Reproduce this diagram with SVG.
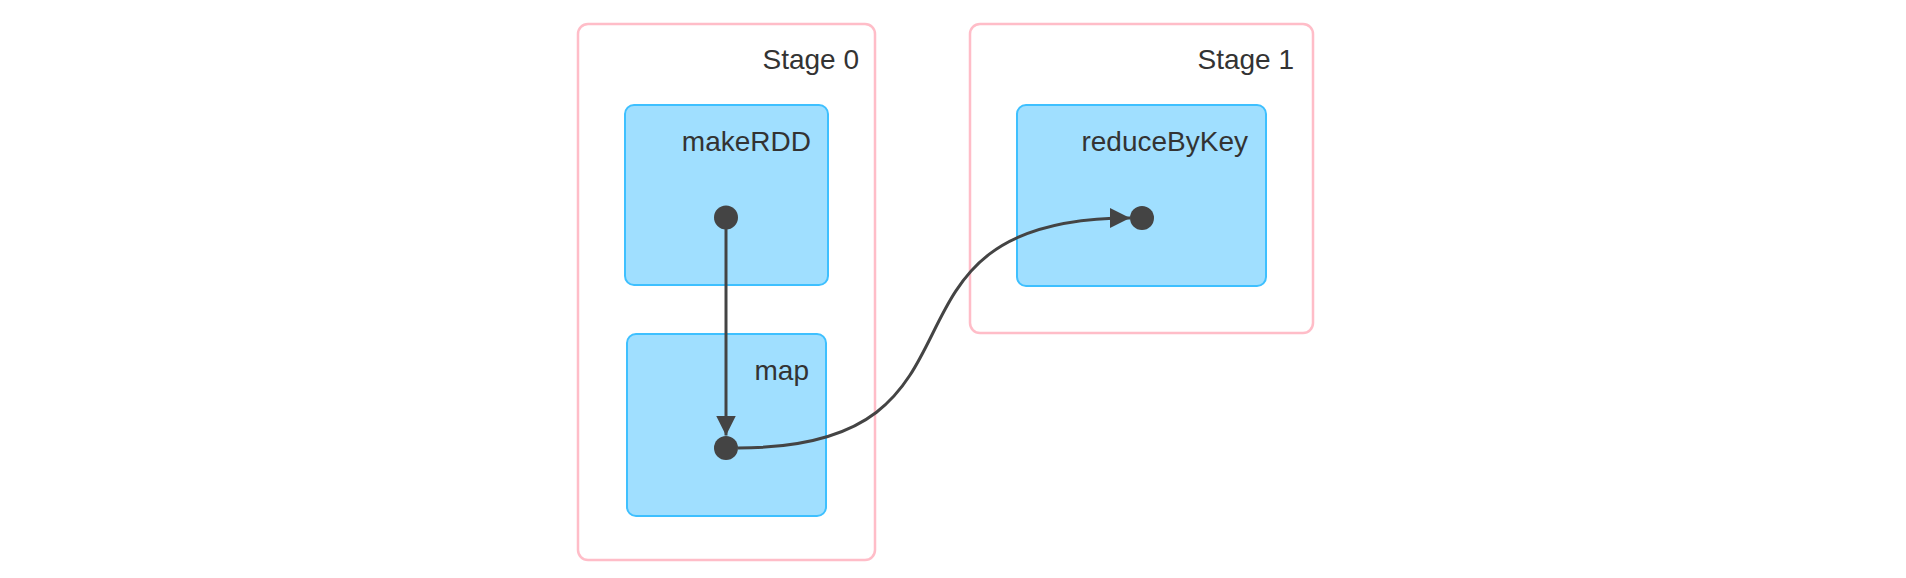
<svg xmlns="http://www.w3.org/2000/svg" width="1906" height="578" viewBox="0 0 1906 578">
<style>
.stage{fill:#FFFFFF;stroke:#FFBDC8;stroke-width:2.5}
.op{fill:#A0DFFF;stroke:#3EC0FF;stroke-width:2}
.lbl{font-family:"Liberation Sans",Arial,sans-serif;font-size:28px;fill:#333333;text-anchor:end}
.dot{fill:#444444}
.edge{fill:none;stroke:#444444;stroke-width:3}
</style>
<defs>
<marker id="arrow" markerUnits="userSpaceOnUse" viewBox="0 0 20 20" refX="20" refY="10" markerWidth="20" markerHeight="20" orient="auto">
<path d="M0,0 L20,10 L0,20 z" fill="#444444"/>
</marker>
</defs>
<g id="stage0">
<rect class="stage" x="578" y="24" width="297" height="536" rx="10"/>
<text class="lbl" x="859" y="69">Stage 0</text>
</g>
<g id="stage1">
<rect class="stage" x="970" y="24" width="343" height="309" rx="10"/>
<text class="lbl" x="1294" y="69">Stage 1</text>
</g>
<g id="makeRDD">
<rect class="op" x="625" y="105" width="203" height="180" rx="9"/>
<text class="lbl" x="811" y="151">makeRDD</text>
<circle class="dot" cx="726" cy="217.5" r="12"/>
</g>
<g id="map">
<rect class="op" x="627" y="334" width="199" height="182" rx="9"/>
<text class="lbl" x="809" y="380">map</text>
<circle class="dot" cx="726" cy="448" r="12"/>
</g>
<g id="reduceByKey">
<rect class="op" x="1017" y="105" width="249" height="181" rx="9"/>
<text class="lbl" x="1248" y="151">reduceByKey</text>
<circle class="dot" cx="1142" cy="218" r="12"/>
</g>
<g id="connectors">
<path class="edge" d="M726,217.5 L726,435.5" marker-end="url(#arrow)"/>
<path class="edge" d="M738,448 C1015,448 850,218 1130,218" marker-end="url(#arrow)"/>
</g>
</svg>
